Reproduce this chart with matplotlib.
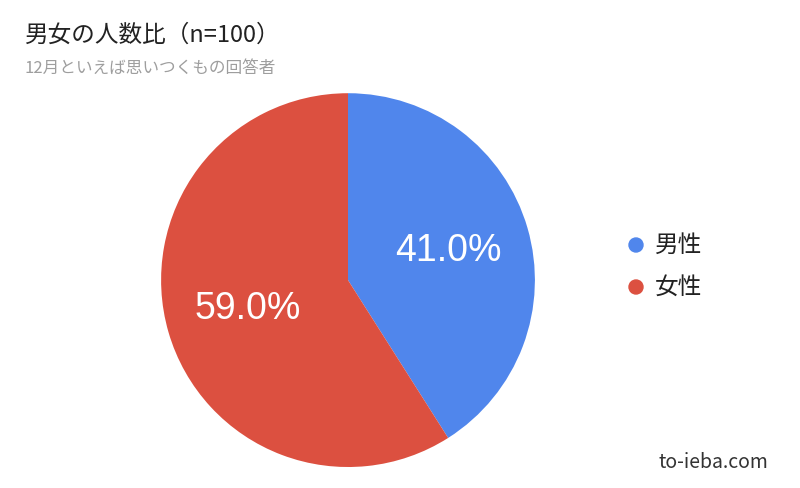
import matplotlib
matplotlib.use('Agg')
import matplotlib.pyplot as plt

plt.rcParams['font.family'] = ['Noto Sans CJK JP', 'DejaVu Sans']

labels = ['男性', '女性']
values = [41.0, 59.0]
colors = ['#5086ec', '#dc5040']

fig = plt.figure(figsize=(8, 4.88), dpi=100)
ax = fig.add_axes([0.435 - 0.234, 0.426 - 0.383, 0.468, 0.766])
wedges, texts, autotexts = ax.pie(values, colors=colors, startangle=90, counterclock=False,
                                  autopct='%.1f%%', pctdistance=0.56, radius=1,
                                  textprops=dict(color='white', fontsize=27,
                                                 family=['Liberation Sans', 'DejaVu Sans']))
ax.set_xlim(-1, 1)
ax.set_ylim(-1, 1)
ax.set_aspect('equal')

fig.text(0.031, 0.928, '男女の人数比（n=100）', fontsize=17, color='#222222', va='center')
fig.text(0.031, 0.860, '12月といえば思いつくもの回答者', fontsize=12, color='#9e9e9e', va='center')
fig.text(0.96, 0.052, 'to-ieba.com', fontsize=14, color='#333333', ha='right', va='center')

for i, (lab, c) in enumerate(zip(labels, colors)):
    y = 1 - (245 + i * 42) / 488
    fig.patches.append(matplotlib.patches.Ellipse((636 / 800, y), 14 / 800, 14 / 488,
                                                  transform=fig.transFigure, color=c))
    fig.text(655 / 800, y, lab, fontsize=17, color='#222222', va='center')

fig.savefig('out.png')
